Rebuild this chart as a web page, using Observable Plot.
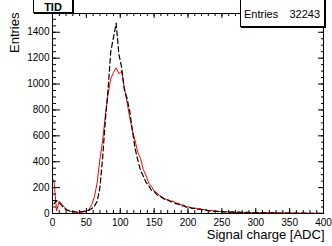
<!DOCTYPE html>
<html><head><meta charset="utf-8">
<script src="https://cdn.jsdelivr.net/npm/d3@7"></script>
<script src="https://cdn.jsdelivr.net/npm/@observablehq/plot@0.6"></script>
<style>
body{margin:0;background:#fff;}
#wrap{position:relative;width:332px;height:246px;overflow:hidden;font-family:"Liberation Sans",Arial,Helvetica,sans-serif;}
.box{position:absolute;background:#fff;border:1px solid #000;box-sizing:border-box;box-shadow:1px 1px 0 #000;}
</style></head><body><div id="wrap"></div>
<script>
// bin centers (ADC), bin width 4
const binCenters = d3.range(2, 400, 4);
// dashed black histogram
const blackCounts = [
  75,100,85,60,38,25,18,14,12,11,
  13,16,20,26,38,58,95,200,430,720,
  960,1250,1360,1470,1230,1130,960,890,790,640,
  500,410,330,290,240,215,180,170,145,135,
  122,108,104,92,88,76,72,60,58,48,
  47,40,39,33,33,27,26,21,21,17,
  17,14,15,12,13,10,12,9,10,8,
  8,8,7,7,7,6,6,6,5,5,
  5,5,4,4,4,4,4,3,3,3,
  3,3,3,3,2,2,2,2,2,2
];
// solid red histogram
const redCounts = [
  260,20,95,70,45,28,18,12,10,9,
  10,12,18,32,70,130,240,420,560,760,
  920,1040,1090,1125,1080,1100,970,860,740,640,
  560,470,425,340,295,235,210,172,162,138,
  128,112,108,97,95,82,78,68,64,52,
  50,42,42,36,37,30,29,24,23,19,
  19,15,15,12,13,10,11,9,10,8,
  8,8,8,7,7,7,6,6,6,5,
  5,5,5,4,4,4,4,4,3,3,
  3,3,3,3,3,2,2,2,2,2
];
const xMajor = [0,50,100,150,200,250,300,350,400];
const xMinor = d3.range(0, 401, 10);
const yMajor = [0,200,400,600,800,1000,1200,1400];
const yMinor = d3.range(0, 1545, 50);
const xTitle = "Signal charge [ADC]";
const yTitle = "Entries";
const histTitle = "TID";
const entries = "32243";

const rows = binCenters.map((x, i) => ({x, black: blackCounts[i], red: redCounts[i]}));
const fmt = d => String(d);

const plot = Plot.plot({
  width: 332, height: 246,
  marginLeft: 52, marginRight: 9, marginTop: 13, marginBottom: 33,
  style: {fontFamily: "'Liberation Sans', Arial, Helvetica, sans-serif", fontSize: "10px", background: "white"},
  x: {domain: [0, 400]},
  y: {domain: [0, 1545]},
  marks: [
    Plot.lineY(rows, {x: "x", y: "red", stroke: "#ff0000", strokeWidth: 1}),
    Plot.lineY(rows, {x: "x", y: "black", stroke: "#000", strokeWidth: 1.2, strokeDasharray: "5,3"}),
    Plot.frame({stroke: "#000"}),
    Plot.axisX(xMajor, {anchor: "bottom", tickSize: -5, text: null, label: null}),
    Plot.axisX(xMinor, {anchor: "bottom", tickSize: -3, text: null, label: null}),
    Plot.axisX(xMajor, {anchor: "bottom", tickSize: 0, tickPadding: 5, label: null, fontSize: 10, tickFormat: fmt}),
    Plot.axisX(xMajor, {anchor: "top", tickSize: -4, text: null, label: null}),
    Plot.axisX(xMinor, {anchor: "top", tickSize: -2, text: null, label: null}),
    Plot.axisY(yMajor, {anchor: "left", tickSize: -8, text: null, label: null}),
    Plot.axisY(yMinor, {anchor: "left", tickSize: -4, text: null, label: null}),
    Plot.axisY(yMajor, {anchor: "left", tickSize: 0, tickPadding: 3, label: null, fontSize: 10, tickFormat: fmt}),
    Plot.axisY(yMajor, {anchor: "right", tickSize: -6, text: null, label: null}),
    Plot.axisY(yMinor, {anchor: "right", tickSize: -3, text: null, label: null}),
    Plot.text([xTitle], {frameAnchor: "bottom-right", text: d => d, textAnchor: "end", lineAnchor: "middle", dx: 1, dy: 21, fontSize: 13}),
    Plot.text([yTitle], {frameAnchor: "top-left", text: d => d, rotate: -90, textAnchor: "end", lineAnchor: "middle", dx: -38, dy: -1, fontSize: 13})
  ]
});
const wrap = document.getElementById("wrap");
wrap.appendChild(plot);

const tb = document.createElement("div");
tb.className = "box";
Object.assign(tb.style, {left: "33px", top: "-3px", width: "40px", height: "16px", fontWeight: "bold", fontSize: "11px", textAlign: "center", lineHeight: "18px"});
tb.textContent = histTitle;
wrap.appendChild(tb);

const sb = document.createElement("div");
sb.className = "box";
Object.assign(sb.style, {left: "240px", top: "-3px", width: "85px", height: "30px", fontSize: "11px"});
sb.innerHTML = `<span style="position:absolute;left:3px;top:10px">Entries</span><span style="position:absolute;right:4px;top:10px">${entries}</span>`;
wrap.appendChild(sb);
</script>
</body></html>
